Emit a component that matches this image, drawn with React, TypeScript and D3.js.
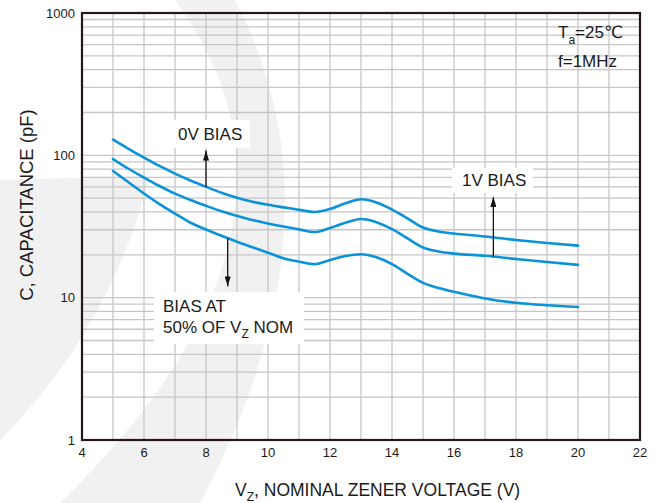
import { useEffect, useRef } from "react";
import * as d3 from "d3";

// capacitance vs nominal zener voltage, three bias conditions
const vz = [5, 5.5, 6, 6.5, 7, 7.5, 8, 8.5, 9, 9.5, 10, 10.5, 11, 11.5, 12, 12.5, 13, 13.5, 14, 14.5, 15, 15.5, 16, 17, 18, 19, 20];
const bias0V = [129.2, 111.2, 96.4, 84.2, 74.4, 66.5, 60.1, 54.6, 50.3, 47.2, 44.9, 43.1, 41.4, 40.0, 42.0, 46.0, 49.1, 46.6, 41.6, 36.1, 31.1, 29.2, 28.2, 26.9, 25.4, 24.2, 23.2];
const bias1V = [94.2, 80.5, 69.8, 60.9, 53.8, 48.5, 44.2, 40.5, 37.6, 35.1, 33.2, 31.6, 30.2, 28.9, 30.9, 33.6, 35.7, 33.9, 30.3, 26.1, 22.5, 21.1, 20.4, 19.7, 18.7, 17.8, 17.0];
const bias50 = [77.6, 64.7, 53.9, 45.4, 39.0, 33.6, 30.1, 27.2, 24.7, 22.6, 20.7, 18.9, 17.9, 17.2, 18.4, 19.6, 20.2, 19.2, 17.2, 14.7, 12.7, 11.7, 11.0, 9.87, 9.2, 8.84, 8.6];

const xTicks = [4, 6, 8, 10, 12, 14, 16, 18, 20, 22];
const yTicks = [1, 10, 100, 1000];

const W = 666;
const H = 503;
const FONT = "'Liberation Sans', Arial, 'DejaVu Sans', 'Noto Sans CJK SC', sans-serif";
const BLUE = "#0a93d8";
const INK = "#1a1a1a";

function valueAt(series: number[], v: number) {
  const i = Math.max(0, Math.min(vz.length - 2, d3.bisectRight(vz, v) - 1));
  const t = (v - vz[i]) / (vz[i + 1] - vz[i]);
  const a = Math.log10(series[i]);
  const b = Math.log10(series[i + 1]);
  return Math.pow(10, a + (b - a) * t);
}

function Chart() {
  const ref = useRef<SVGSVGElement>(null);

  useEffect(() => {
    const svg = d3.select(ref.current);
    svg.selectAll("*").remove();

    const x = d3.scaleLinear().domain([4, 22]).range([82, 640]);
    const y = d3.scaleLog().domain([1, 1000]).range([440, 13]);
    const [x0, x1] = x.range();
    const [y0, y1] = y.range();

    svg.append("rect").attr("width", W).attr("height", H).attr("fill", "#fff");

    // faint watermark in the background
    const wm = svg.append("g").attr("fill", "#f1f1f1");
    wm.append("path").attr("d", "M235,0 Q350,220 200,503 L60,503 Q342,228 175,0 Z");
    wm.append("path").attr("d", "M0,180 L150,176 Q110,330 0,440 Z");

    // grid
    const grid = svg.append("g").attr("stroke", "#c6c6c6").attr("stroke-width", 1.3);
    d3.range(5, 22).forEach(v => {
      grid.append("line").attr("x1", x(v)).attr("x2", x(v)).attr("y1", y0).attr("y2", y1);
    });
    [1, 10, 100].forEach(d => {
      d3.range(1, 10).forEach(k => {
        const val = d * k;
        if (val === 1) return;
        grid.append("line").attr("x1", x0).attr("x2", x1).attr("y1", y(val)).attr("y2", y(val));
      });
    });

    // label boxes
    const boxes = [
      { x: 170, y: 120, w: 80, h: 28 },
      { x: 452, y: 168, w: 81, h: 25 },
      { x: 154, y: 292, w: 150, h: 52 },
    ];
    svg.append("g").selectAll("rect").data(boxes).join("rect")
      .attr("x", d => d.x).attr("y", d => d.y).attr("width", d => d.w).attr("height", d => d.h)
      .attr("fill", "#fff");

    // curves
    const line = d3.line<number>()
      .x((_, i) => x(vz[i]))
      .y(d => y(d))
      .curve(d3.curveMonotoneX);

    [bias0V, bias1V, bias50].forEach(s => {
      svg.append("path")
        .datum(s)
        .attr("d", line)
        .attr("fill", "none")
        .attr("stroke", BLUE)
        .attr("stroke-width", 2.6)
        .attr("stroke-linecap", "round");
    });

    // frame
    svg.append("rect")
      .attr("x", x0).attr("y", y1).attr("width", x1 - x0).attr("height", y0 - y1)
      .attr("fill", "none").attr("stroke", "#231815").attr("stroke-width", 2.2);

    // arrows
    svg.append("defs").append("marker")
      .attr("id", "arr")
      .attr("viewBox", "0 0 10 6")
      .attr("refX", 10).attr("refY", 3)
      .attr("markerWidth", 10).attr("markerHeight", 6)
      .attr("markerUnits", "userSpaceOnUse")
      .attr("orient", "auto")
      .append("path").attr("d", "M0,0 L10,3 L0,6 Z").attr("fill", "#111");

    const arrows = [
      { series: bias0V, at: 8.0, tip: 108 },
      { series: bias1V, at: 17.27, tip: 51 },
      { series: bias50, at: 8.7, tip: 12 },
    ];
    arrows.forEach(a => {
      svg.append("line")
        .attr("x1", x(a.at)).attr("x2", x(a.at))
        .attr("y1", y(valueAt(a.series, a.at))).attr("y2", y(a.tip))
        .attr("stroke", "#111").attr("stroke-width", 1.3)
        .attr("marker-end", "url(#arr)");
    });

    const txt = svg.append("g").attr("font-family", FONT).attr("fill", INK);

    // tick labels
    txt.selectAll(".xt").data(xTicks).join("text")
      .attr("x", d => x(d)).attr("y", 457)
      .attr("text-anchor", "middle").attr("font-size", 13)
      .text(d => d);
    txt.selectAll(".yt").data(yTicks).join("text")
      .attr("x", 75).attr("y", d => y(d)).attr("dy", "0.36em")
      .attr("text-anchor", "end").attr("font-size", 13)
      .text(d => d);

    // axis titles
    const xl = txt.append("text").attr("x", 235).attr("y", 496).attr("font-size", 17.5);
    xl.append("tspan").text("V");
    xl.append("tspan").attr("font-size", 12).attr("dy", 5).text("Z");
    xl.append("tspan").attr("dy", -5).text(", NOMINAL ZENER VOLTAGE (V)");

    txt.append("text")
      .attr("transform", "translate(33,205) rotate(-90)")
      .attr("text-anchor", "middle").attr("font-size", 18.5)
      .text("C, CAPACITANCE (pF)");

    // conditions
    const ta = txt.append("text").attr("x", 558).attr("y", 38).attr("font-size", 17);
    ta.append("tspan").text("T");
    ta.append("tspan").attr("font-size", 12).attr("dy", 6).text("a");
    ta.append("tspan").attr("dy", -6).text("=25℃");
    txt.append("text").attr("x", 558).attr("y", 67).attr("font-size", 17).text("f=1MHz");

    // curve labels
    txt.append("text").attr("x", 178).attr("y", 140).attr("font-size", 17).text("0V BIAS");
    txt.append("text").attr("x", 462).attr("y", 186).attr("font-size", 17).text("1V BIAS");
    txt.append("text").attr("x", 163).attr("y", 312).attr("font-size", 17).text("BIAS AT");
    const l2 = txt.append("text").attr("x", 163).attr("y", 333).attr("font-size", 17);
    l2.append("tspan").text("50% OF V");
    l2.append("tspan").attr("font-size", 12).attr("dy", 5).text("Z");
    l2.append("tspan").attr("dy", -5).text(" NOM");
  }, []);

  return (
    <svg ref={ref} width={W} height={H} style={{ position: "absolute", left: 0, top: 0 }}></svg>
  );
}

export default function App() {
  return <Chart />;
}
